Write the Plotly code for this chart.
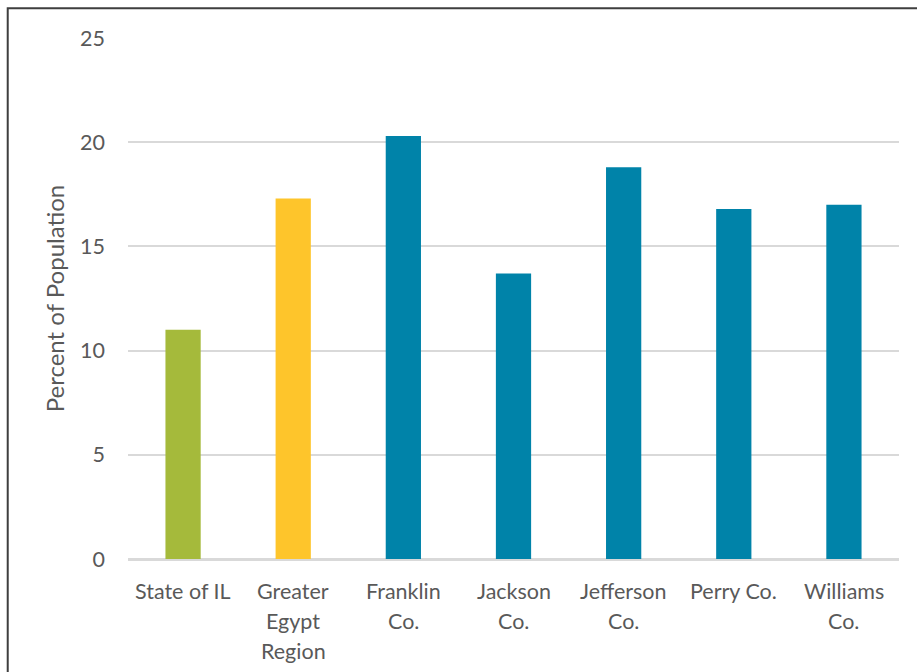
import plotly.graph_objects as go

# Share of population by area
categories = ["State of IL", "Greater Egypt Region", "Franklin Co.", "Jackson Co.",
              "Jefferson Co.", "Perry Co.", "Williams Co."]
label_lines = [["State of IL"], ["Greater", "Egypt", "Region"], ["Franklin", "Co."],
               ["Jackson", "Co."], ["Jefferson", "Co."], ["Perry Co."], ["Williams", "Co."]]
percent = [11.0, 17.3, 20.3, 13.7, 18.8, 16.8, 17.0]
bar_colors = ["#A5BA3B", "#FEC52B", "#0083A9", "#0083A9", "#0083A9", "#0083A9", "#0083A9"]
y_ticks = [0, 5, 10, 15, 20, 25]

FONT = "Lato, 'Open Sans', sans-serif"
TEXT_GRAY = "#595959"

fig = go.Figure(go.Bar(
    x=categories,
    y=percent,
    marker=dict(color=bar_colors, line=dict(width=0)),
    width=0.32,
    hoverinfo="x+y",
))

# Category labels wrapped over several lines, placed under the zero line
annotations = []
for cat, lines in zip(categories, label_lines):
    for i, line in enumerate(lines):
        annotations.append(dict(
            x=cat, y=0, xref="x", yref="y",
            text=line, showarrow=False,
            yanchor="middle", yshift=-(32 + i * 30),
            font=dict(family=FONT, size=21.5, color=TEXT_GRAY),
        ))

fig.update_layout(
    width=917, height=672,
    margin=dict(l=128, r=18, t=38, b=113),
    paper_bgcolor="white", plot_bgcolor="white",
    showlegend=False,
    bargap=0.68,
    annotations=annotations,
    font=dict(family=FONT, color=TEXT_GRAY),
    xaxis=dict(
        showticklabels=False, showgrid=False,
        showline=True, linecolor="#D9D9D9", linewidth=1.5,
        ticks="", fixedrange=True,
    ),
    yaxis=dict(
        range=[0, 25], tickvals=y_ticks,
        showgrid=True, gridcolor="#D9D9D9", gridwidth=1.5,
        zeroline=True, zerolinecolor="#D9D9D9", zerolinewidth=1.5,
        showline=False, ticks="",
        ticklabelstandoff=22,
        tickfont=dict(family=FONT, size=21.5, color=TEXT_GRAY),
        title=dict(text="Percent of Population", standoff=8,
                   font=dict(family=FONT, size=24, color=TEXT_GRAY)),
    ),
    shapes=[dict(
        type="rect", xref="paper", yref="paper",
        x0=-0.156, x1=1.2, y0=-0.4, y1=1.057,
        line=dict(color="#3F3F3F", width=2), fillcolor="rgba(0,0,0,0)",
        layer="above",
    )],
)

fig.write_html("out.html")
